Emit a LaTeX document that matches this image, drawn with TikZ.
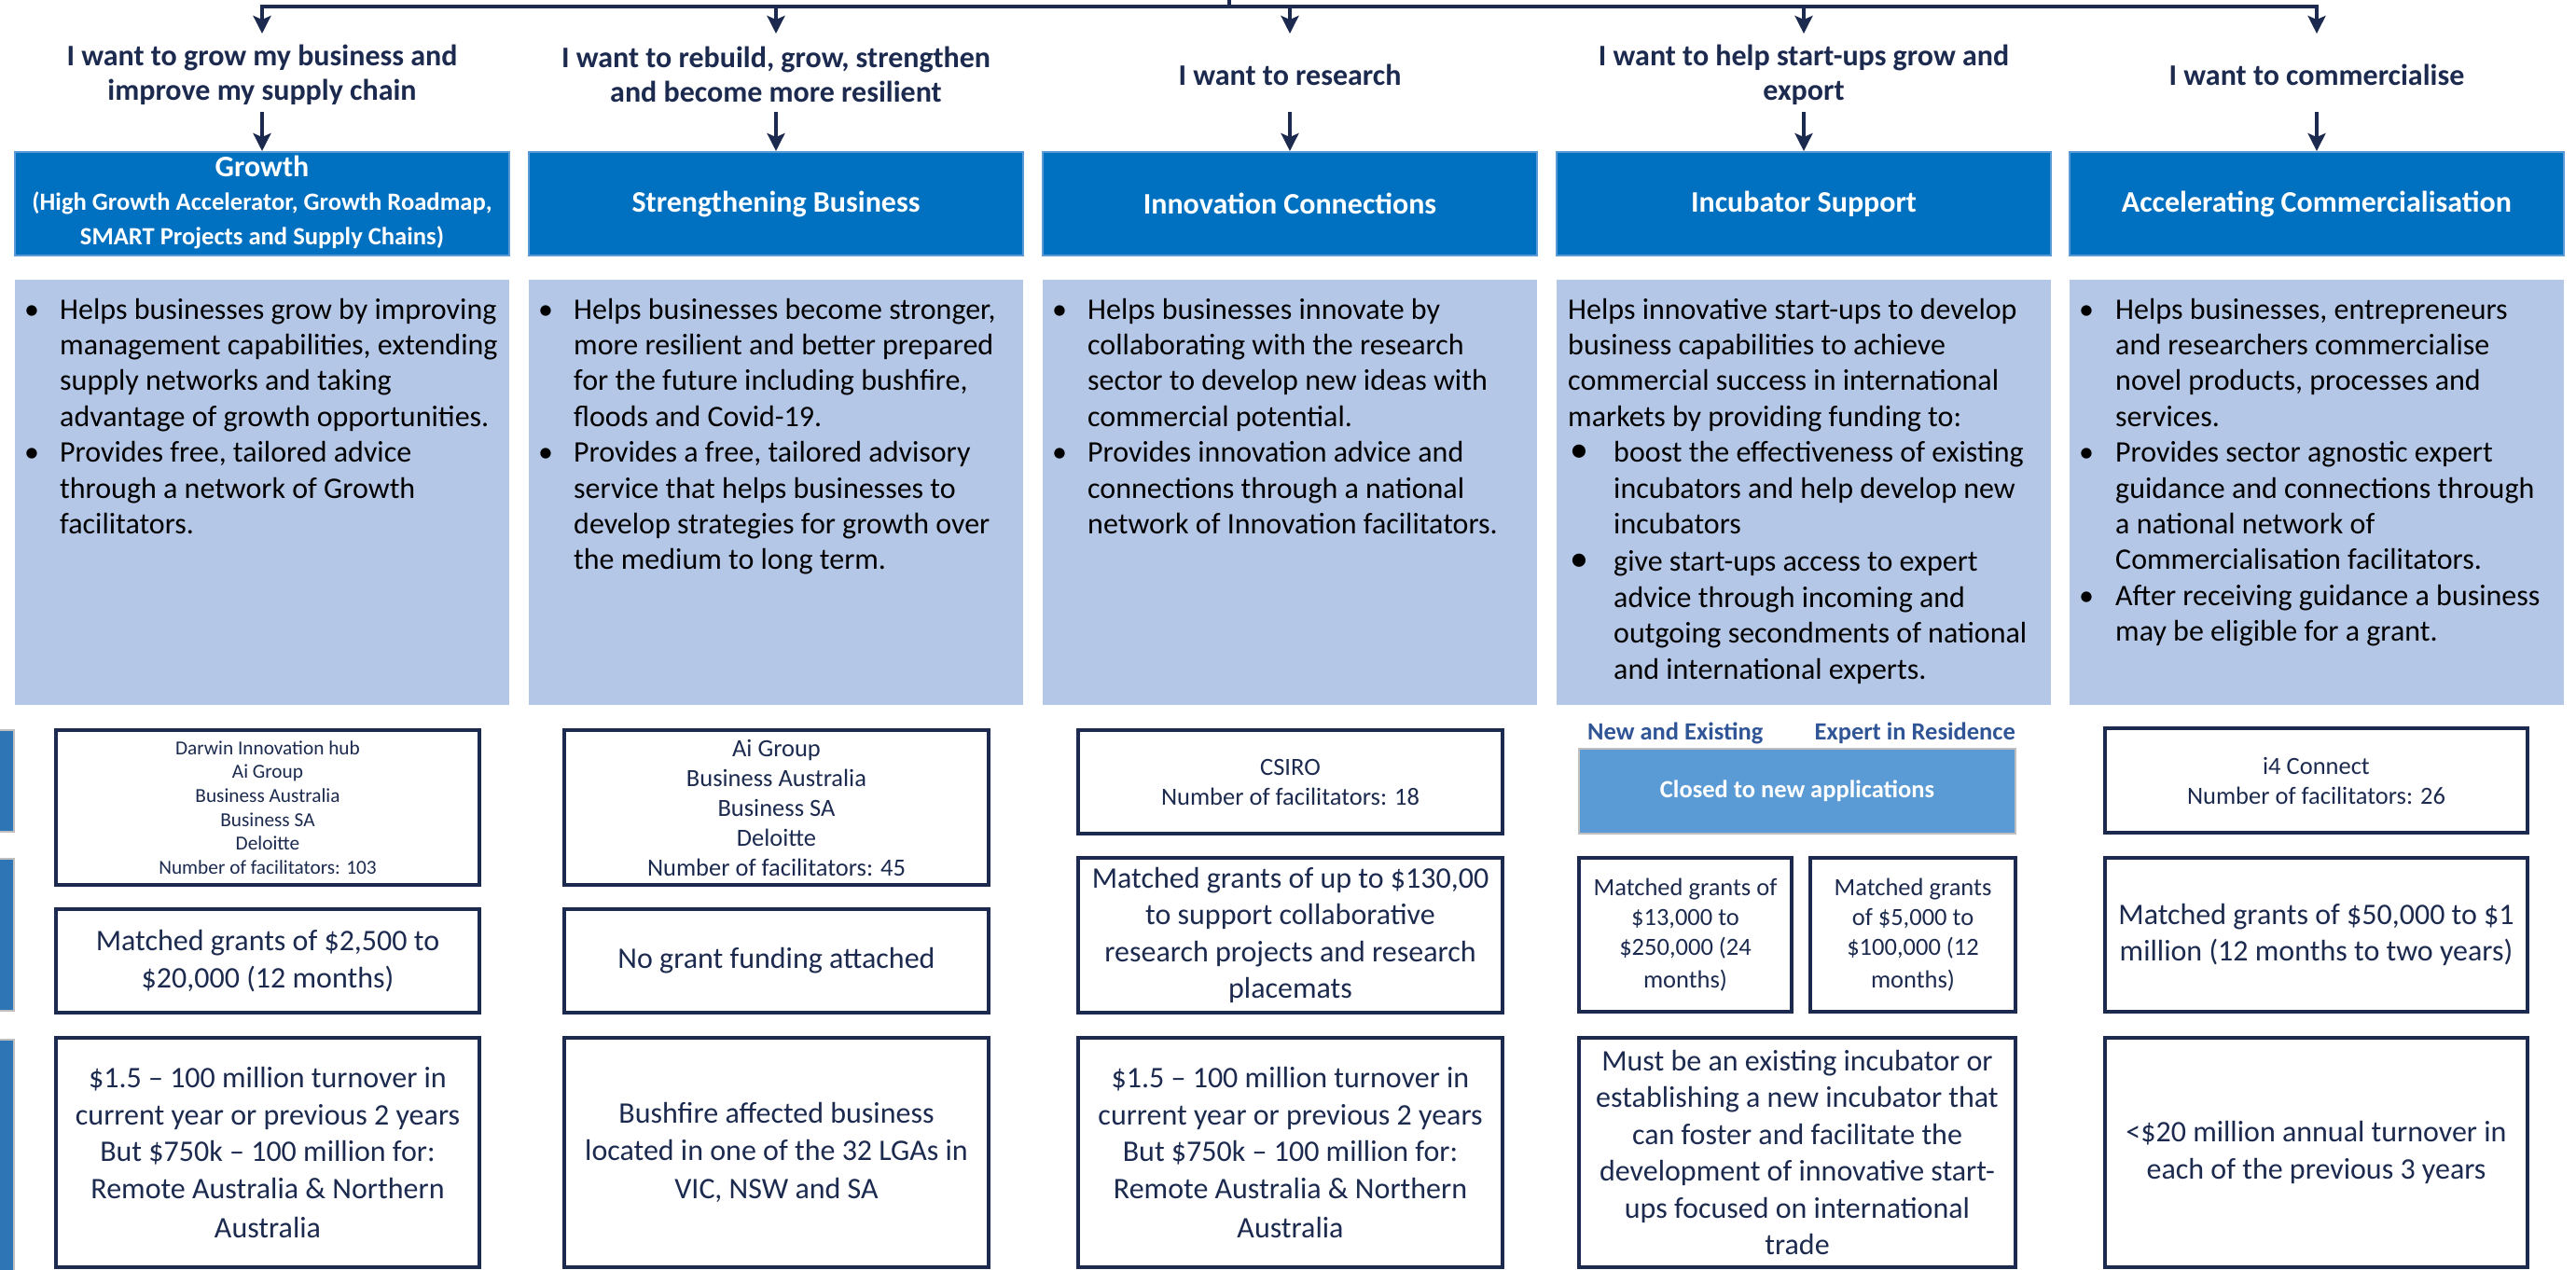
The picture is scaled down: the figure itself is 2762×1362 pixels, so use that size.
\documentclass[tikz,border=0pt]{standalone}
\usepackage{fontspec}
\setmainfont{Carlito}
\usetikzlibrary{arrows.meta}
\definecolor{navy}{HTML}{1B2A4E}
\definecolor{headblue}{HTML}{0070C0}
\definecolor{headedge}{HTML}{5B9BD5}
\definecolor{descfill}{HTML}{B4C7E7}
\definecolor{closedfill}{HTML}{5B9BD5}
\definecolor{closededge}{HTML}{BFBFBF}
\definecolor{labelblue}{HTML}{2F5597}
\definecolor{sidefill}{HTML}{2E75B6}
\definecolor{shadowc}{HTML}{9AAACB}
\pgfdeclarelayer{bg}
\pgfsetlayers{bg,main}
\newcommand{\shadowof}[2]{\begin{pgfonlayer}{bg}\foreach \o in {3,6,9}{\fill[shadowc,opacity=#2] ([yshift=-\o pt]#1.south west) rectangle ([yshift=-\o pt]#1.north east);}\end{pgfonlayer}}
\tikzset{
  conn/.style={draw=navy, line width=3.5pt},
  arr/.style={conn, -{Stealth[length=19pt,width=19pt,inset=4pt]}},
  qtext/.style={align=center, text=navy, font=\bfseries\fontsize{32pt}{37pt}\selectfont, inner sep=0pt},
  headbox/.style={fill=headblue, draw=headedge, line width=2pt, text=white,
    font=\bfseries\fontsize{32pt}{36.7pt}\selectfont, minimum width=530pt, minimum height=111pt,
    inner sep=0pt, align=center},
  descbox/.style={fill=descfill, minimum width=530pt, minimum height=456pt, inner sep=0pt},
  desctext/.style={anchor=north west, inner sep=0pt, font=\fontsize{32pt}{38.4pt}\selectfont, text=black},
  infobox/.style={draw=navy, line width=3.2pt, fill=white, inner sep=0pt, align=center, text=navy},
  txtbig/.style={font=\fontsize{32pt}{39.5pt}\selectfont},
  txtmid/.style={font=\fontsize{26.5pt}{32pt}\selectfont},
  txtsml/.style={font=\fontsize{21.3pt}{25.6pt}\selectfont},
  sidebox/.style={fill=sidefill, draw=closededge, line width=2pt},
  lbl/.style={text=labelblue, font=\bfseries\fontsize{26.5pt}{31pt}\selectfont, inner sep=0pt},
}
\begin{document}
\begin{tikzpicture}[x=1pt,y=-1pt]
\fill[white] (0,0) rectangle (2762,1362);
\useasboundingbox (0,0) rectangle (2762,1362);

% ---- top connector
\coordinate (S0) at (1318,-3);
\coordinate (S1) at (1318,7);
\coordinate (L1) at (281,7);
\coordinate (L2) at (832,7);
\coordinate (L3) at (1383,7);
\coordinate (L4) at (1934,7);
\coordinate (L5) at (2484,7);
\coordinate (T1) at (281,36);
\coordinate (T2) at (832,36);
\coordinate (T3) at (1383,36);
\coordinate (T4) at (1934,36);
\coordinate (T5) at (2484,36);
\draw[conn, line cap=rect] (L1) -- (L5);
\draw[conn] (S0) -- (S1);
\foreach \i in {1,...,5}{\draw[arr] (L\i) -- (T\i);}

% ---- questions
\node[qtext] (q1) at (281,80) {I want to grow my business and\\improve my supply chain};
\node[qtext] (q2) at (832,80) {I want to rebuild, grow, strengthen\\and become more resilient};
\node[qtext] (q3) at (1383,80) {I want to research};
\node[qtext] (q4) at (1934,80) {I want to help start-ups grow and\\export};
\node[qtext] (q5) at (2484,80) {I want to commercialise};

% ---- headings
\node[headbox] (h1) at (281,218.5) {\fontsize{26.6pt}{36.7pt}\selectfont\raisebox{-3pt}{\begin{tabular}{@{}c@{}}{\fontsize{32pt}{36.7pt}\selectfont Growth}\\(High Growth Accelerator, Growth Roadmap,\\SMART Projects and Supply Chains)\end{tabular}}};
\node[headbox] (h2) at (832,218.5) {Strengthening Business};
\node[headbox] (h3) at (1383,218.5) {Innovation Connections};
\node[headbox] (h4) at (1934,218.5) {Incubator Support};
\node[headbox] (h5) at (2484,218.5) {Accelerating Commercialisation};
\foreach \i in {1,...,5}{\shadowof{h\i}{0.10}}

\coordinate (A1) at (281,120);
\coordinate (A2) at (832,120);
\coordinate (A3) at (1383,120);
\coordinate (A4) at (1934,120);
\coordinate (A5) at (2484,120);
\foreach \i in {1,...,5}{\draw[arr] (A\i) -- (h\i.north);}

% ---- description boxes
\node[descbox] (d1) at (281,528) {};
\node[descbox] (d2) at (832,528) {};
\node[descbox] (d3) at (1383,528) {};
\node[descbox] (d4) at (1934,528) {};
\node[descbox] (d5) at (2484,528) {};
\foreach \i in {1,...,5}{\shadowof{d\i}{0.10}}

\node[desctext] (d1t) at (26,315) {\begin{tabular}{@{}p{38pt}@{}l@{}}
• & Helps businesses grow by improving\\
  & management capabilities, extending\\
  & supply networks and taking\\
  & advantage of growth opportunities.\\
• & Provides free, tailored advice\\
  & through a network of Growth\\
  & facilitators.
\end{tabular}};
\node[desctext] (d2t) at (577,315) {\begin{tabular}{@{}p{38pt}@{}l@{}}
• & Helps businesses become stronger,\\
  & more resilient and better prepared\\
  & for the future including bushfire,\\
  & floods and Covid-19.\\
• & Provides a free, tailored advisory\\
  & service that helps businesses to\\
  & develop strategies for growth over\\
  & the medium to long term.
\end{tabular}};
\node[desctext] (d3t) at (1128,315) {\begin{tabular}{@{}p{38pt}@{}l@{}}
• & Helps businesses innovate by\\
  & collaborating with the research\\
  & sector to develop new ideas with\\
  & commercial potential.\\
• & Provides innovation advice and\\
  & connections through a national\\
  & network of Innovation facilitators.
\end{tabular}};
\node[desctext] (d4t) at (1681,315) {\begin{tabular}{@{}p{49pt}@{}l@{}}
\multicolumn{2}{@{}l@{}}{Helps innovative start-ups to develop}\\
\multicolumn{2}{@{}l@{}}{business capabilities to achieve}\\
\multicolumn{2}{@{}l@{}}{commercial success in international}\\
\multicolumn{2}{@{}l@{}}{markets by providing funding to:}\\
\hspace{2pt}{\fontsize{40pt}{38.4pt}\selectfont •} & boost the effectiveness of existing\\
  & incubators and help develop new\\
  & incubators\\[2pt]
\hspace{2pt}{\fontsize{40pt}{38.4pt}\selectfont •} & give start-ups access to expert\\
  & advice through incoming and\\
  & outgoing secondments of national\\
  & and international experts.
\end{tabular}};
\node[desctext] (d5t) at (2229,315) {\begin{tabular}{@{}p{39pt}@{}l@{}}
• & Helps businesses, entrepreneurs\\
  & and researchers commercialise\\
  & novel products, processes and\\
  & services.\\
• & Provides sector agnostic expert\\
  & guidance and connections through\\
  & a national network of\\
  & Commercialisation facilitators.\\
• & After receiving guidance a business\\
  & may be eligible for a grant.
\end{tabular}};

% ---- left partial boxes
\draw[sidebox] (-10,783) rectangle (15,892);
\draw[sidebox] (-10,921) rectangle (15,1084);
\draw[sidebox] (-10,1115) rectangle (15,1372);

% ---- column 1 info
\node[infobox, txtsml, minimum width=454pt, minimum height=166pt] (f1) at (287,866) {Darwin Innovation hub\\Ai Group\\Business Australia\\Business SA\\Deloitte\\Number of facilitators: 103};
\node[infobox, txtbig, minimum width=454pt, minimum height=111pt] (g1) at (287,1030.5) {Matched grants of \$2,500 to\\\$20,000 (12 months)};
\node[infobox, txtbig, minimum width=454pt, minimum height=246pt] (e1) at (287,1236) {\$1.5 – 100 million turnover in\\current year or previous 2 years\\But \$750k – 100 million for:\\Remote Australia \& Northern\\[3pt]Australia};

% ---- column 2 info
\node[infobox, txtmid, minimum width=455pt, minimum height=166pt] (f2) at (832.5,866) {Ai Group\\Business Australia\\Business SA\\Deloitte\\Number of facilitators: 45};
\node[infobox, txtbig, minimum width=455pt, minimum height=111pt] (g2) at (832.5,1030.5) {No grant funding attached};
\node[infobox, txtbig, minimum width=455pt, minimum height=246pt] (e2) at (832.5,1236) {Bushfire affected business\\located in one of the 32 LGAs in\\[2pt]VIC, NSW and SA};

% ---- column 3 info
\node[infobox, txtmid, minimum width=455pt, minimum height=111pt] (f3) at (1383.5,838.5) {CSIRO\\Number of facilitators: 18};
\node[infobox, txtbig, minimum width=455pt, minimum height=166pt] (g3) at (1383.5,1003) {Matched grants of up to \$130,00\\to support collaborative\\research projects and research\\placemats};
\node[infobox, txtbig, minimum width=455pt, minimum height=246pt] (e3) at (1383.5,1236) {\$1.5 – 100 million turnover in\\current year or previous 2 years\\But \$750k – 100 million for:\\Remote Australia \& Northern\\[3pt]Australia};

% ---- column 4 info
\node[lbl, anchor=west] (n4a) at (1702,786) {New and Existing};
\node[lbl, anchor=east] (n4b) at (2161,786) {Expert in Residence};
\node[fill=closedfill, draw=closededge, line width=2.5pt, text=white, font=\bfseries\fontsize{26.5pt}{31pt}\selectfont, minimum width=468pt, minimum height=91pt, inner sep=0pt] (c4) at (1927,848.5) {Closed to new applications};
\shadowof{c4}{0.10}
\node[infobox, txtmid, minimum width=228pt, minimum height=165pt] (g4a) at (1807,1002.5) {Matched grants of\\\$13,000 to\\\$250,000 (24\\[3pt]months)};
\node[infobox, txtmid, minimum width=220pt, minimum height=165pt] (g4b) at (2051,1002.5) {Matched grants\\of \$5,000 to\\\$100,000 (12\\[3pt]months)};
\node[infobox, txtbig, minimum width=468pt, minimum height=246pt] (e4) at (1927,1236) {Must be an existing incubator or\\establishing a new incubator that\\can foster and facilitate the\\development of innovative start-\\ups focused on international\\trade};

% ---- column 5 info
\node[infobox, txtmid, minimum width=453pt, minimum height=112pt] (f5) at (2483.5,837) {i4 Connect\\Number of facilitators: 26};
\node[infobox, txtbig, minimum width=453pt, minimum height=165pt] (g5) at (2483.5,1002.5) {Matched grants of \$50,000 to \$1\\million (12 months to two years)};
\node[infobox, txtbig, minimum width=453pt, minimum height=246pt] (e5) at (2483.5,1236) {<\$20 million annual turnover in\\each of the previous 3 years};

\end{tikzpicture}
\end{document}
